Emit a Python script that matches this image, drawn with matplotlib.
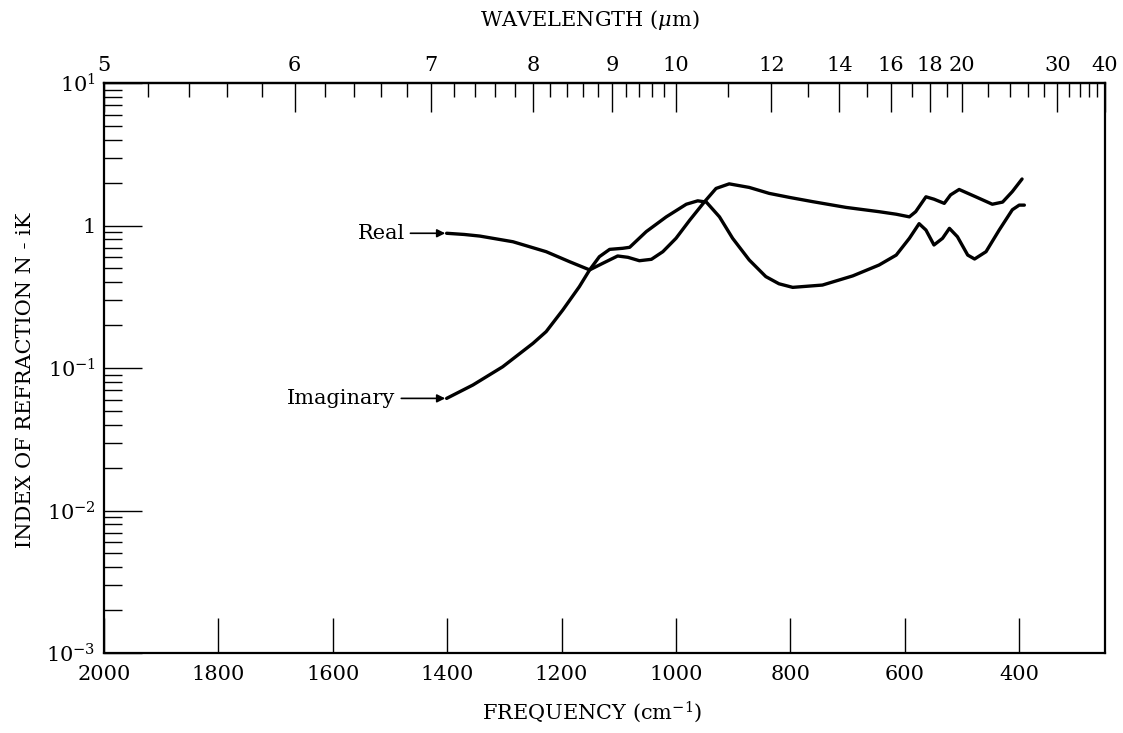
import numpy as np
import matplotlib
matplotlib.use("Agg")
import matplotlib.pyplot as plt
from matplotlib.ticker import FixedLocator, NullFormatter

# ---------------- data ----------------
freq_real = [1401, 1370, 1343, 1285, 1227, 1186, 1151, 1128, 1102, 1084, 1064,
             1043, 1023, 1000, 976, 950, 930, 907, 872, 837, 800, 761, 703,
             645, 615, 592, 581, 563, 549, 531, 520, 505, 476, 447, 429, 412, 395]
n_real = [0.882, 0.865, 0.843, 0.769, 0.655, 0.557, 0.488, 0.543, 0.611, 0.598,
          0.566, 0.579, 0.655, 0.813, 1.09, 1.47, 1.82, 1.96, 1.85, 1.68, 1.57,
          1.47, 1.34, 1.25, 1.20, 1.15, 1.25, 1.59, 1.53, 1.43, 1.64, 1.79, 1.59,
          1.41, 1.46, 1.73, 2.12]

freq_imag = [1401, 1355, 1303, 1250, 1227, 1198, 1169, 1151, 1134, 1116, 1093,
             1081, 1052, 1017, 982, 962, 947, 924, 901, 872, 843, 820, 796, 744,
             691, 645, 615, 592, 575, 563, 549, 534, 522, 508, 490, 478, 458,
             435, 412, 400, 391]
k_imag = [0.0612, 0.076, 0.102, 0.149, 0.18, 0.255, 0.372, 0.488, 0.604, 0.68,
          0.692, 0.703, 0.906, 1.15, 1.41, 1.49, 1.46, 1.15, 0.813, 0.573, 0.438,
          0.39, 0.368, 0.382, 0.443, 0.528, 0.62, 0.813, 1.03, 0.929, 0.73,
          0.813, 0.955, 0.834, 0.62, 0.582, 0.655, 0.929, 1.29, 1.39, 1.39]

freq_ticks = [2000, 1800, 1600, 1400, 1200, 1000, 800, 600, 400]
wl_major = [5, 6, 7, 8, 9, 10, 12, 14, 16, 18, 20, 30, 40]
wl_minor = [5.2, 5.4, 5.6, 5.8, 6.2, 6.4, 6.6, 6.8, 7.2, 7.4, 7.6, 7.8,
            8.2, 8.4, 8.6, 8.8, 9.2, 9.4, 9.6, 9.8, 11, 13, 15, 17, 19,
            22, 24, 26, 28, 32, 34, 36, 38]
y_major = [1e-3, 1e-2, 1e-1, 1, 10]
y_major_labels = [r"$10^{-3}$", r"$10^{-2}$", r"$10^{-1}$", "1", r"$10^{1}$"]

# ---------------- style ----------------
plt.rcParams["font.family"] = ["DejaVu Serif"]
plt.rcParams["mathtext.fontset"] = "dejavuserif"

W, H = 1123, 733
fig = plt.figure(figsize=(W / 100, H / 100), dpi=100)
ax = fig.add_axes([104 / W, 1 - 653 / H, (1105 - 104) / W, (653 - 83) / H])
ax.set_yscale("log")
ax.set_xlim(2000, 250)
ax.set_ylim(1e-3, 1e1)

ax.plot(freq_real, n_real, color="black", lw=2.4, solid_capstyle="round",
        solid_joinstyle="round")
ax.plot(freq_imag, k_imag, color="black", lw=2.4, solid_capstyle="round",
        solid_joinstyle="round")

for s in ax.spines.values():
    s.set_linewidth(1.6)

# bottom axis
ax.set_xticks(freq_ticks)
ax.set_xticklabels([str(v) for v in freq_ticks])
ax.tick_params(axis="x", which="major", direction="in", length=25, width=1.0,
               labelsize=15, pad=9, top=False, bottom=True)
ax.tick_params(axis="x", which="minor", bottom=False, top=False)

# left axis
ax.yaxis.set_major_locator(FixedLocator(y_major))
ax.set_yticklabels(y_major_labels)
minors = [m * 10.0 ** e for e in range(-3, 1) for m in range(2, 10)]
ax.yaxis.set_minor_locator(FixedLocator(minors))
ax.yaxis.set_minor_formatter(NullFormatter())
ax.tick_params(axis="y", which="major", direction="in", length=27, width=1.0,
               labelsize=15, pad=6, right=False)
ax.tick_params(axis="y", which="minor", direction="in", length=13, width=1.0,
               right=False)


def fwd(x):
    x = np.asarray(x, dtype=float)
    with np.errstate(divide="ignore"):
        return 1e4 / x


sec = ax.secondary_xaxis("top", functions=(fwd, fwd))
sec.set_xticks(wl_major)
sec.set_xticklabels([str(v) for v in wl_major])
sec.xaxis.set_minor_locator(FixedLocator(wl_minor))
sec.xaxis.set_minor_formatter(NullFormatter())
sec.tick_params(axis="x", which="major", direction="in", length=21, width=1.0,
                labelsize=15, pad=6)
sec.tick_params(axis="x", which="minor", direction="in", length=10, width=1.0)
sec.spines["top"].set_linewidth(1.6)

# labels
fig.text(26 / W, 1 - 380 / H, "INDEX OF REFRACTION N - iK", rotation=90,
         ha="center", va="center", fontsize=15)
fig.text(592 / W, 1 - 712 / H, r"FREQUENCY (cm$^{-1}$)", ha="center",
         va="center", fontsize=15)
fig.text(590 / W, 1 - 20 / H, r"WAVELENGTH ($\mu$m)", ha="center",
         va="center", fontsize=15)

arrow = dict(arrowstyle="-|>", color="black", lw=1.2, mutation_scale=12,
             shrinkA=2, shrinkB=1)
ax.annotate("Real", xy=(freq_real[0], n_real[0]), xytext=(1474, n_real[0]),
            ha="right", va="center", fontsize=15, arrowprops=arrow)
ax.annotate("Imaginary", xy=(freq_imag[0], k_imag[0]), xytext=(1490, k_imag[0]),
            ha="right", va="center", fontsize=15, arrowprops=arrow)

fig.savefig("out.png", dpi=100, facecolor="white")
